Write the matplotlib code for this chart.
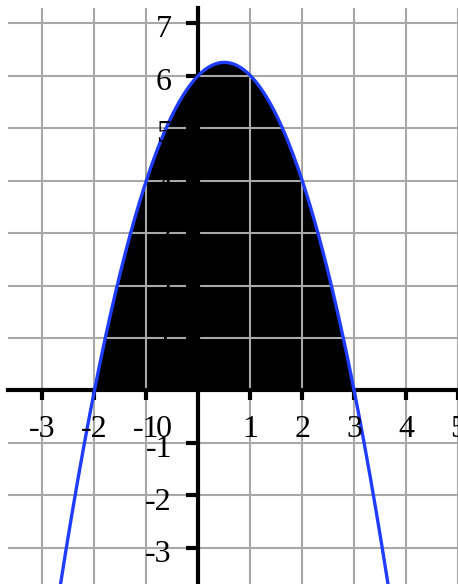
import numpy as np
from matplotlib import pyplot as plt

# parabola y = -(x + 2)(x - 3)
roots = [-2, 3]
lead = -1.0
xticks = [-3, -2, -1, 1, 2, 3, 4, 5]
yticks = [-3, -2, -1, 1, 2, 3, 4, 5, 6, 7]
xlim = (-3.664, 4.875)
ylim = (-3.686, 7.286)

def f(x):
    return lead * (x - roots[0]) * (x - roots[1])

plt.rcParams['font.family'] = ['Liberation Serif', 'DejaVu Serif']

fig = plt.figure(figsize=(4.58, 5.84), dpi=100)
ax = fig.add_axes([8 / 458, 0, 450 / 458, 576 / 584])
ax.set_xlim(*xlim)
ax.set_ylim(*ylim)

# grid at every integer
ax.set_xticks(xticks)
ax.set_yticks(yticks)
ax.set_xticklabels([])
ax.set_yticklabels([])
ax.grid(True, color='#a8a8a8', lw=1.5)
ax.set_axisbelow(True)

for s in ['top', 'right']:
    ax.spines[s].set_visible(False)
for s in ['left', 'bottom']:
    ax.spines[s].set_position(('data', 0))
    ax.spines[s].set_linewidth(3)
    ax.spines[s].set_zorder(2.6)
ax.tick_params(axis='x', direction='out', length=7, width=3)
ax.tick_params(axis='y', direction='out', length=8.5, width=3)

# shaded area between the curve and the x axis
xf = np.linspace(roots[0], roots[1], 400)
ax.fill_between(xf, 0, f(xf), color='black', lw=0, zorder=0.3)

xc = np.linspace(xlim[0], xlim[1], 600)
ax.plot(xc, f(xc), color='#1f3cff', lw=2.4, zorder=3, clip_on=True)

# tick labels
for v in xticks:
    ax.annotate(str(v).replace('-', '-'), (v, 0), xytext=(0, -28), textcoords='offset points',
                ha='center', va='center', fontsize=23, color='black', annotation_clip=False)
for v in yticks:
    ax.annotate(str(v), (0, v), xytext=(-19, -5), textcoords='offset points',
                ha='right', va='center', fontsize=23, color='black')
ax.annotate('0', (0, 0), xytext=(-19, -28), textcoords='offset points',
            ha='right', va='center', fontsize=23, color='black')

fig.savefig('out.png', dpi=100)
